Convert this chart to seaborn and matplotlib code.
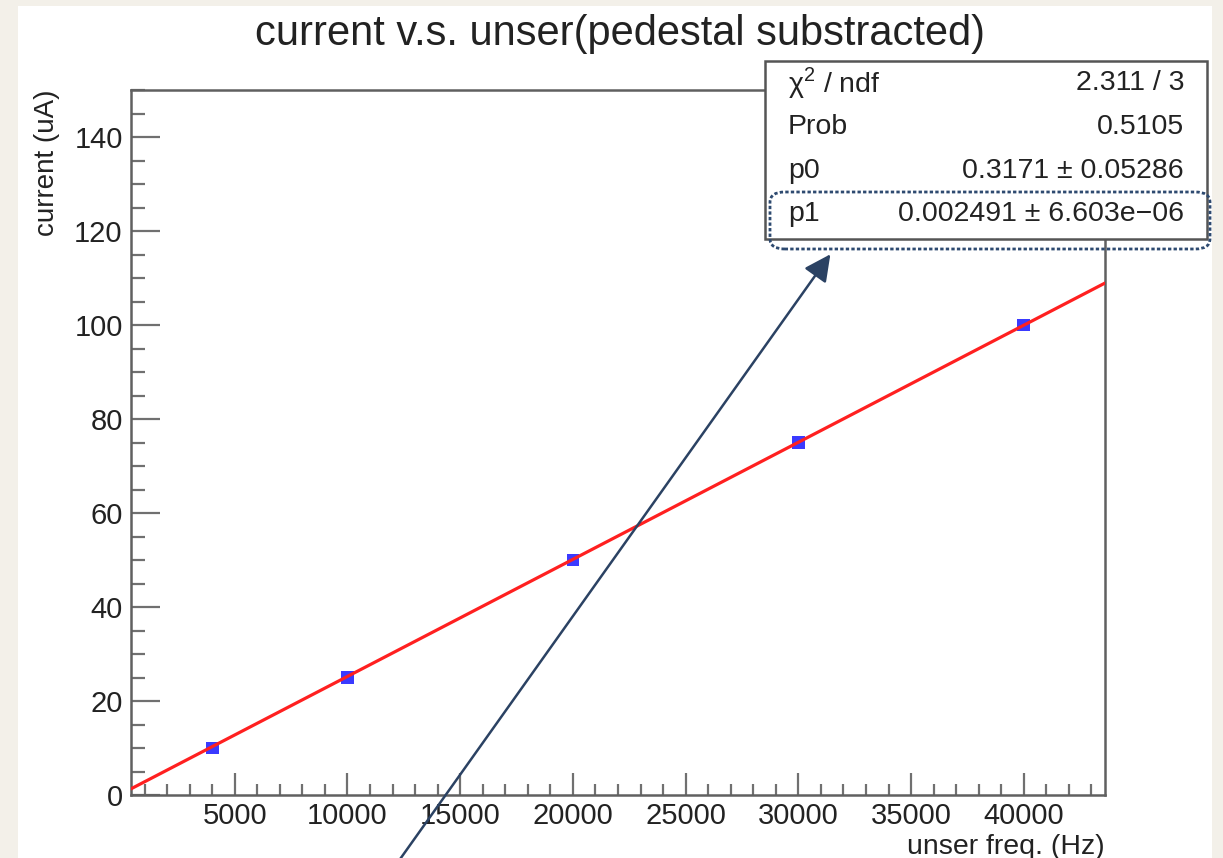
import matplotlib
matplotlib.use("Agg")
import matplotlib.pyplot as plt
import seaborn as sns
import pandas as pd
import numpy as np
from matplotlib.patches import Rectangle, FancyBboxPatch, FancyArrowPatch
from matplotlib.ticker import MultipleLocator

# ---- data ----
freq_hz = [4000, 10000, 20000, 30000, 40000]
current_ua = [10, 25, 50, 75, 100]
fit_p0 = 0.3171
fit_p1 = 0.002491
stats_labels = ["χ$^2$ / ndf", "Prob", "p0", "p1"]
stats_values = ["2.311 / 3", "0.5105", "0.3171 ± 0.05286", "0.002491 ± 6.603e−06"]
title = "current v.s. unser(pedestal substracted)"
xlabel = "unser freq. (Hz)"
ylabel = "current (uA)"
x_range = [400, 43600]
y_range = [0, 150]

sns.set_theme(style="white")
plt.rcParams['font.family'] = ['Liberation Sans', 'DejaVu Sans']
plt.rcParams['mathtext.fontset'] = 'custom'
plt.rcParams['mathtext.rm'] = 'Liberation Sans'

W, H = 1223, 858
fig = plt.figure(figsize=(W / 100, H / 100), dpi=100)
fig.patch.set_facecolor("#f3f0e9")

def fx(px):
    return px / W

def fy(py):
    return 1 - py / H

# white panel
fig.patches.append(Rectangle((fx(18), 0), fx(1212) - fx(18), fy(6), transform=fig.transFigure,
                             facecolor="white", edgecolor="none", zorder=-5))

L, R, T, B = 131, 1105, 90, 795
ax = fig.add_axes([fx(L), fy(B), fx(R) - fx(L), fy(T) - fy(B)])
ax.set_facecolor("white")

df = pd.DataFrame({"freq": freq_hz, "current": current_ua})
sns.scatterplot(data=df, x="freq", y="current", marker="s", s=85, color="#3a3aff",
                edgecolor="none", ax=ax, zorder=3)

fit_df = pd.DataFrame({"freq": x_range})
fit_df["current"] = fit_p0 + fit_p1 * fit_df["freq"]
sns.lineplot(data=fit_df, x="freq", y="current", color="#ff2020", lw=2.3, ax=ax, zorder=4)

ax.set_xlim(*x_range)
ax.set_ylim(*y_range)
ax.xaxis.set_major_locator(MultipleLocator(5000))
ax.xaxis.set_minor_locator(MultipleLocator(1000))
ax.yaxis.set_major_locator(MultipleLocator(20))
ax.yaxis.set_minor_locator(MultipleLocator(5))
ax.tick_params(axis="x", which="major", direction="in", length=16, width=1.6, color="#707070",
               labelsize=21, pad=5, bottom=True, top=False, labelcolor="#222222")
ax.tick_params(axis="x", which="minor", direction="in", length=8, width=1.6, color="#707070",
               bottom=True, top=False)
ax.tick_params(axis="y", which="major", direction="in", length=21, width=1.6, color="#707070",
               labelsize=21, pad=6, left=True, right=False, labelcolor="#222222")
ax.tick_params(axis="y", which="minor", direction="in", length=10, width=1.6, color="#707070",
               left=True, right=False)
for sp in ax.spines.values():
    sp.set_color("#606060")
    sp.set_linewidth(1.8)

ax.set_xlabel(xlabel, fontsize=20.5, loc="right", labelpad=3, color="#222222")
ax.set_ylabel(ylabel, fontsize=20, loc="top", labelpad=10, color="#222222")

fig.text(fx(620), fy(34), title, ha="center", va="center", fontsize=30, color="#222222")

# stats box
bx0, by0, bx1, by1 = 765, 61, 1207, 239
fig.patches.append(Rectangle((fx(bx0), fy(by1)), fx(bx1) - fx(bx0), fy(by0) - fy(by1),
                             transform=fig.transFigure, facecolor="white", edgecolor="#555555",
                             lw=1.8, zorder=5))
row_y = [83, 127, 171, 214]
for lab, val, yy in zip(stats_labels, stats_values, row_y):
    fig.text(fx(788), fy(yy), lab, ha="left", va="center", fontsize=20.5, zorder=6, color="#222222")
    fig.text(fx(1184), fy(yy), val, ha="right", va="center", fontsize=20.5, zorder=6, color="#222222")

# dotted rounded highlight
fig.patches.append(FancyBboxPatch((fx(770), fy(249)), fx(1210) - fx(770), fy(192) - fy(249),
                                  boxstyle="round,pad=0,rounding_size=0.012",
                                  transform=fig.transFigure, facecolor="none",
                                  edgecolor="#2e4a70", lw=2, linestyle=(0, (1.2, 0.8)), zorder=7))

# arrow
arr = FancyArrowPatch((fx(398), fy(862)), (fx(832), fy(252)), transform=fig.transFigure,
                      arrowstyle="-|>,head_length=0.9,head_width=0.45", mutation_scale=18,
                      color="#2b4263", lw=1.8, zorder=8)
fig.patches.append(arr)

fig.savefig("out.png", dpi=100, facecolor=fig.get_facecolor())
